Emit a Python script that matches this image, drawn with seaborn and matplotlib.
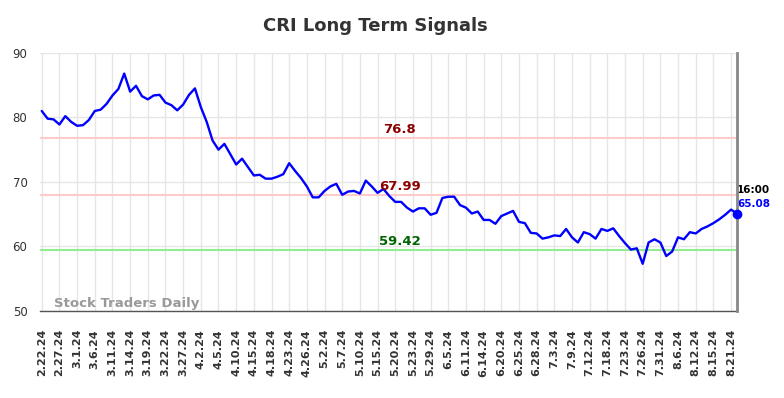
# import libraries
import pandas as pd
import numpy as np
import seaborn as sns
import matplotlib.pyplot as plt

# signal values, one per trading session
signal = [81.0, 79.8, 79.7, 78.9, 80.2, 79.3, 78.7, 78.8, 79.6, 81.0,
          81.2, 82.1, 83.4, 84.4, 86.8, 84.0, 84.9, 83.3, 82.8, 83.4,
          83.5, 82.3, 81.9, 81.1, 82.0, 83.5, 84.5, 81.6, 79.3, 76.4,
          75.0, 75.9, 74.3, 72.7, 73.6, 72.3, 71.0, 71.1, 70.5, 70.5,
          70.8, 71.2, 72.9, 71.7, 70.6, 69.3, 67.6, 67.6, 68.6, 69.3,
          69.7, 68.0, 68.5, 68.6, 68.2, 70.2, 69.3, 68.3, 68.9, 67.8,
          66.9, 66.9, 66.0, 65.4, 65.9, 65.9, 64.9, 65.2, 67.5, 67.7,
          67.7, 66.4, 66.0, 65.1, 65.4, 64.1, 64.1, 63.5, 64.7, 65.1,
          65.5, 63.8, 63.6, 62.1, 62.0, 61.2, 61.4, 61.7, 61.6, 62.7,
          61.4, 60.6, 62.2, 61.9, 61.2, 62.7, 62.4, 62.8, 61.6, 60.5,
          59.5, 59.7, 57.3, 60.6, 61.1, 60.6, 58.5, 59.2, 61.4, 61.1,
          62.2, 62.0, 62.7, 63.1, 63.6, 64.2, 64.9, 65.7, 65.08]

# date labels shown every third session
tick_labels = ["2.22.24", "2.27.24", "3.1.24", "3.6.24", "3.11.24", "3.14.24",
               "3.19.24", "3.22.24", "3.27.24", "4.2.24", "4.5.24", "4.10.24",
               "4.15.24", "4.18.24", "4.23.24", "4.26.24", "5.2.24", "5.7.24",
               "5.10.24", "5.15.24", "5.20.24", "5.23.24", "5.29.24", "6.5.24",
               "6.11.24", "6.14.24", "6.20.24", "6.25.24", "6.28.24", "7.3.24",
               "7.9.24", "7.12.24", "7.18.24", "7.23.24", "7.26.24", "7.31.24",
               "8.6.24", "8.12.24", "8.15.24", "8.21.24"]

# signal levels
upper_level = 76.8
mid_level = 67.99
lower_level = 59.42
last_time = "16:00"

df = pd.DataFrame({"session": np.arange(len(signal)), "signal": signal})

sns.set_style("white")
plt.rcParams['font.family'] = ['DejaVu Sans']

fig = plt.figure(figsize=(7.84, 3.98), dpi=100)
ax = fig.add_axes([0.051, 0.219, 0.889, 0.648])

# reference levels
ax.axhline(upper_level, color="#ffcccc", lw=1.5, zorder=1)
ax.axhline(mid_level, color="#ffcccc", lw=1.5, zorder=1)
ax.axhline(lower_level, color="#90ee90", lw=1.5, zorder=1)

# signal line
sns.lineplot(data=df, x="session", y="signal", color="#0000ff", lw=1.7, ax=ax, zorder=3)
last = df.iloc[-1]
ax.plot(last["session"], last["signal"], "o", color="#0000ff", ms=6, zorder=5, clip_on=False)

# level labels
label_x = 60.8
ax.text(label_x, upper_level + 0.3, f"{upper_level}", color="#8b0000", fontsize=9.5,
        fontweight="bold", ha="center", va="bottom")
ax.text(label_x, mid_level + 0.3, f"{mid_level}", color="#8b0000", fontsize=9.5,
        fontweight="bold", ha="center", va="bottom")
ax.text(label_x, lower_level + 0.3, f"{lower_level}", color="#006400", fontsize=9.5,
        fontweight="bold", ha="center", va="bottom")

# last value labels
ax.text(last["session"], 68.7, last_time, color="black", fontsize=7.5,
        fontweight="bold", ha="left", va="center")
ax.text(last["session"], 66.5, f"{last['signal']:.2f}", color="#0000ff", fontsize=7.5,
        fontweight="bold", ha="left", va="center")

# watermark
ax.text(2, 50.2, "Stock Traders Daily", color="#999999", fontsize=9.5,
        fontweight="bold", ha="left", va="bottom", zorder=2)

# axes
ax.set_xlim(-0.3, len(signal) - 1)
ax.set_ylim(50, 90)
ax.set_xticks(np.arange(0, len(signal) - 1, 3))
ax.set_xticklabels(tick_labels, rotation=90, fontsize=8, fontweight="bold", color="#333333")
ax.set_yticks([50, 60, 70, 80, 90])
ax.tick_params(axis="y", labelsize=8.5, colors="#333333", length=0, pad=9)
ax.tick_params(axis="x", length=0, pad=13)
ax.grid(True, color="#e6e6e6", lw=1)
ax.set_axisbelow(True)
ax.set_xlabel("")
ax.set_ylabel("")

for side in ["left", "top"]:
    ax.spines[side].set_visible(False)
ax.spines["bottom"].set_color("#555555")
ax.spines["bottom"].set_linewidth(1)
ax.spines["right"].set_color("#888888")
ax.spines["right"].set_linewidth(2)
ax.spines["right"].set_zorder(4)

fig.text(375 / 784, 0.935, "CRI Long Term Signals", ha="center", va="center",
         fontsize=13, fontweight="bold", color="#333333")

fig.savefig("out.png", dpi=100)
